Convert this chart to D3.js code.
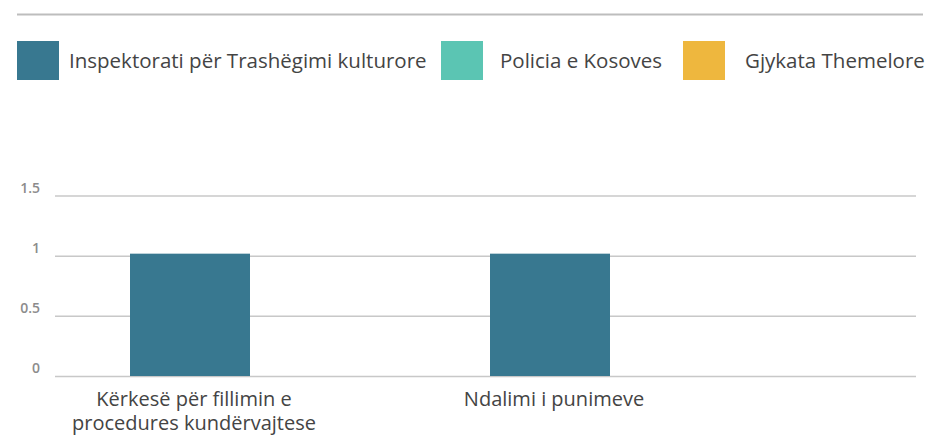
<!DOCTYPE html>
<html>
<head>
<meta charset="utf-8">
<script src="https://cdn.jsdelivr.net/npm/d3@7"></script>
<style>
  body { margin: 0; background: #fff; }
  svg { display: block; font-family: "Open Sans", sans-serif; }
</style>
</head>
<body>
<svg id="chart"></svg>
<script>
const width = 927, height = 436;

const categories = [["Kërkesë për fillimin e", "procedures kundërvajtese"], ["Ndalimi i punimeve"]];
const series = ["Inspektorati për Trashëgimi kulturore", "Policia e Kosoves", "Gjykata Themelore"];
const colors = ["#387890", "#5bc5b3", "#eeb73e"];
const values = [
  [1, 0, 0],
  [1, 0, 0]
];
const yTicks = [0, 0.5, 1, 1.5];

const svg = d3.select("#chart")
              .attr("width", width)
              .attr("height", height);

// top rule
svg.append("line")
   .attr("x1", 17).attr("x2", 923)
   .attr("y1", 14.5).attr("y2", 14.5)
   .attr("stroke", "#bdbdbd")
   .attr("stroke-width", 2);

// legend
const legendX = [17, 441, 683];
const legendTextX = [52, 59, 62];
const legend = svg.selectAll(".legend")
                  .data(series)
                  .enter()
                  .append("g")
                  .attr("class", "legend")
                  .attr("transform", (d, i) => `translate(${legendX[i]},41)`);
legend.append("rect")
      .attr("width", 42)
      .attr("height", 39)
      .attr("fill", (d, i) => colors[i]);
legend.append("text")
      .attr("x", (d, i) => legendTextX[i])
      .attr("y", 20)
      .attr("dy", "0.35em")
      .attr("font-size", 20.5)
      .attr("fill", "#444")
      .text(d => d);

const left = 55, right = 916;

const y = d3.scaleLinear()
            .domain([0, 1.5])
            .range([376, 195.5]);

const x0 = d3.scaleBand()
             .domain(categories.map((c, i) => i))
             .range([130, 850]);

const x1 = d3.scaleBand()
             .domain(series)
             .range([0, x0.bandwidth()]);

// grid
const yAxis = svg.append("g")
                 .attr("transform", `translate(${left},0)`)
                 .call(d3.axisLeft(y)
                         .tickValues(yTicks)
                         .tickSize(-(right - left))
                         .tickFormat(d3.format("")));
yAxis.select(".domain").remove();
yAxis.selectAll(".tick line")
     .attr("stroke", "#c8c8c8")
     .attr("stroke-width", 1.5);
yAxis.selectAll(".tick text")
     .attr("x", -15)
     .attr("dy", "-0.25em")
     .attr("font-family", "Open Sans, sans-serif")
     .attr("font-size", 14)
     .attr("font-weight", 600)
     .attr("fill", "#8c8c8c");

// bars
const groups = svg.selectAll(".group")
                  .data(values)
                  .enter()
                  .append("g")
                  .attr("class", "group")
                  .attr("transform", (d, i) => `translate(${x0(i)},0)`);
groups.selectAll("rect")
      .data(d => d.map((v, j) => ({ key: series[j], value: v, color: colors[j] })))
      .enter()
      .filter(d => d.value > 0)
      .append("rect")
      .attr("x", d => x1(d.key))
      .attr("width", x1.bandwidth())
      .attr("y", d => y(d.value) - 2)
      .attr("height", d => y(0) - y(d.value) + 2)
      .attr("fill", d => d.color);

// category labels, centered under the first bar
const labels = svg.selectAll(".cat")
                  .data(categories)
                  .enter()
                  .append("text")
                  .attr("class", "cat")
                  .attr("text-anchor", "middle")
                  .attr("font-size", 20)
                  .attr("fill", "#444")
                  .attr("transform", (d, i) => `translate(${x0(i) + x1(series[0]) + x1.bandwidth() / 2 + 4},406)`);
labels.selectAll("tspan")
      .data(d => d)
      .enter()
      .append("tspan")
      .attr("x", 0)
      .attr("dy", (d, i) => i === 0 ? 0 : 24)
      .text(d => d);
</script>
</body>
</html>
